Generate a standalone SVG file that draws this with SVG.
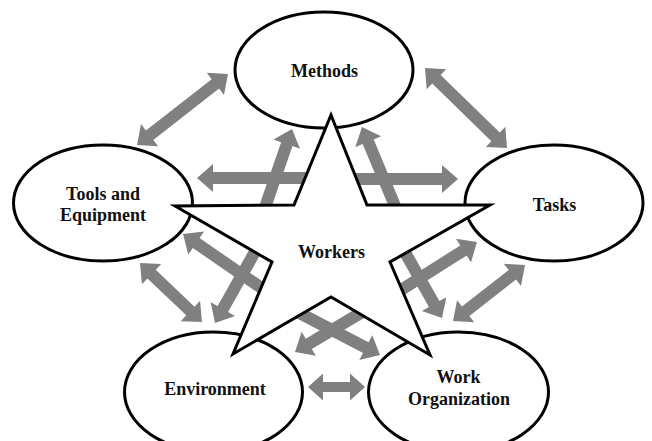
<svg xmlns="http://www.w3.org/2000/svg" width="652" height="441" viewBox="0 0 652 441">
  <style>
    .arrow { fill: #808080; stroke: none; }
    .node { fill: #ffffff; stroke: #000000; stroke-width: 3; }
    .label { font-family: "Liberation Serif", "Times New Roman", serif; font-weight: bold; font-size: 18px; fill: #111111; text-anchor: middle; }
  </style>
  <rect width="652" height="441" fill="#ffffff"/>

  <!-- Two-way arrows; the star is drawn over them afterwards -->
  <g id="connectors">
    <!-- node to node -->
    <polygon class="arrow" transform="translate(137,145) rotate(-37.96)" points="0,0 16,-14 16,-6 99.4,-6 99.4,-14 115.4,0 99.4,14 99.4,6 16,6 16,14"/>
    <polygon class="arrow" transform="translate(425,68) rotate(44.3)" points="0,0 16,-14 16,-6 98.6,-6 98.6,-14 114.6,0 98.6,14 98.6,6 16,6 16,14"/>
    <polygon class="arrow" transform="translate(525,265) rotate(142.1)" points="0,0 16,-14 16,-6 75.2,-6 75.2,-14 91.2,0 75.2,14 75.2,6 16,6 16,14"/>
    <polygon class="arrow" transform="translate(308,387)" points="0,0 15,-13.5 15,-5 42,-5 42,-13.5 57,0 42,13.5 42,5 15,5 15,13.5"/>
    <polygon class="arrow" transform="translate(140,263) rotate(43.6)" points="0,0 16,-14 16,-6 69.6,-6 69.6,-14 85.6,0 69.6,14 69.6,6 16,6 16,14"/>
    <!-- Workers to each node (inner ends hidden by the star) -->
    <polygon class="arrow" transform="translate(197,178)" points="0,0 16,-14 16,-6 123,-6 123,6 16,6 16,14"/>
    <polygon class="arrow" transform="translate(458,179) rotate(180)" points="0,0 16,-14 16,-6 118,-6 118,6 16,6 16,14"/>
    <polygon class="arrow" transform="translate(292,129) rotate(108.97)" points="0,0 16,-14 16,-6 101.5,-6 101.5,6 16,6 16,14"/>
    <polygon class="arrow" transform="translate(362,127) rotate(67.3)" points="0,0 16,-14 16,-6 106.2,-6 106.2,6 16,6 16,14"/>
    <polygon class="arrow" transform="translate(183,234) rotate(34.5)" points="0,0 16,-14 16,-6 116.5,-6 116.5,6 16,6 16,14"/>
    <polygon class="arrow" transform="translate(215,323) rotate(-60.7)" points="0,0 16,-14 16,-6 95.1,-6 95.1,6 16,6 16,14"/>
    <polygon class="arrow" transform="translate(477,242) rotate(147.75)" points="0,0 16,-14 16,-6 97.4,-6 97.4,6 16,6 16,14"/>
    <polygon class="arrow" transform="translate(442,318) rotate(-119.4)" points="0,0 16,-14 16,-6 84.7,-6 84.7,6 16,6 16,14"/>
    <polygon class="arrow" transform="translate(295,352) rotate(-30.7)" points="0,0 16,-14 16,-6 93,-6 93,6 16,6 16,14"/>
    <polygon class="arrow" transform="translate(380,355) rotate(-152.5)" points="0,0 16,-14 16,-6 104.1,-6 104.1,6 16,6 16,14"/>
  </g>

  <g id="methods">
    <ellipse class="node" cx="324" cy="70" rx="89" ry="58"/>
    <text class="label" x="324.5" y="77">Methods</text>
  </g>

  <g id="tools-and-equipment">
    <ellipse class="node" cx="103" cy="203" rx="89.5" ry="58"/>
    <text class="label" x="103" y="200">Tools and</text>
    <text class="label" x="103" y="221">Equipment</text>
  </g>

  <g id="tasks">
    <ellipse class="node" cx="554" cy="203" rx="89" ry="58"/>
    <text class="label" x="554.5" y="211">Tasks</text>
  </g>

  <g id="environment">
    <ellipse class="node" cx="213.5" cy="392" rx="89" ry="60"/>
    <text class="label" x="215" y="395">Environment</text>
  </g>

  <g id="work-organization">
    <ellipse class="node" cx="458.5" cy="392" rx="90" ry="60"/>
    <text class="label" x="458.5" y="383">Work</text>
    <text class="label" x="459" y="405">Organization</text>
  </g>

  <!-- Central star, drawn last so it sits over arrows and ellipse rims -->
  <g id="workers">
    <polygon class="node" stroke-linejoin="miter" points="331,115 367,205 490,205 390,262 430,355 331,297 233,354 272,262 175,206 294,205"/>
    <text class="label" x="331.5" y="258">Workers</text>
  </g>
</svg>
